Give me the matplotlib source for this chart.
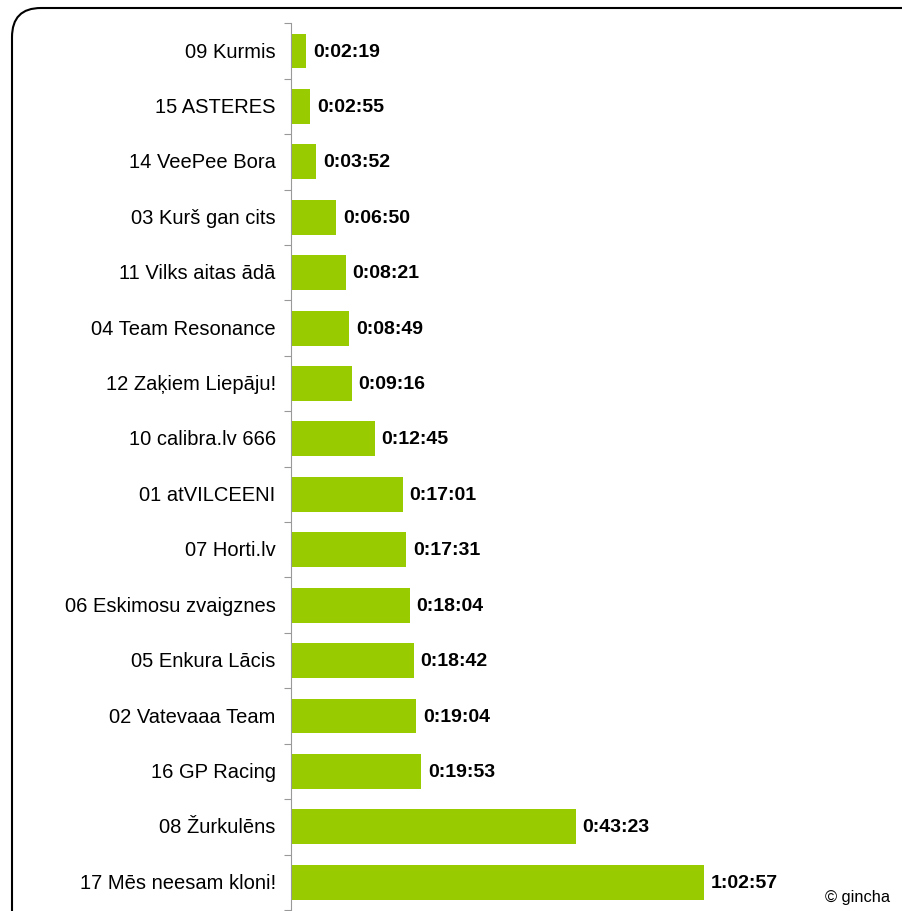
import matplotlib
matplotlib.use("Agg")
import matplotlib.pyplot as plt
from matplotlib.patches import FancyBboxPatch

plt.rcParams['font.family'] = ['Liberation Sans', 'DejaVu Sans']

# Komandas un laiki (no augšas uz leju)
komandas = [
    "09 Kurmis", "15 ASTERES", "14 VeePee Bora", "03 Kurš gan cits",
    "11 Vilks aitas ādā", "04 Team Resonance", "12 Zaķiem Liepāju!",
    "10 calibra.lv 666", "01 atVILCEENI", "07 Horti.lv",
    "06 Eskimosu zvaigznes", "05 Enkura Lācis", "02 Vatevaaa Team",
    "16 GP Racing", "08 Žurkulēns", "17 Mēs neesam kloni!",
]
laiki = [
    "0:02:19", "0:02:55", "0:03:52", "0:06:50", "0:08:21", "0:08:49",
    "0:09:16", "0:12:45", "0:17:01", "0:17:31", "0:18:04", "0:18:42",
    "0:19:04", "0:19:53", "0:43:23", "1:02:57",
]


def sekundes(t):
    h, m, s = [int(v) for v in t.split(":")]
    return h * 3600 + m * 60 + s


vertibas = [sekundes(t) for t in laiki]
n = len(komandas)

fig = plt.figure(figsize=(9.03, 9.12), dpi=100)
W, H = 903, 912

# noapaļots rāmis
ramis = FancyBboxPatch((12 / W, 1 - 9 / H - 1.2), 1.2, 1.2,
                       boxstyle="round,pad=0,rounding_size=0.032",
                       transform=fig.transFigure, fill=False,
                       edgecolor="black", linewidth=1.5, zorder=0)
fig.patches.append(ramis)

ax = fig.add_axes([291 / W, 1 - 911 / H, (W - 291) / W, (911 - 24.3) / H])
ax.set_facecolor("none")

y = list(range(n))
ax.barh(y, vertibas, height=0.63, color="#99CC00", zorder=2)
ax.set_ylim(n - 0.5, -0.5)
ax.set_xlim(0, (W - 291) / 0.10935)

for yi, v, t in zip(y, vertibas, laiki):
    ax.annotate(t, (v, yi), xytext=(5, 0), textcoords="offset points",
                va="center", ha="left", fontsize=14, fontweight="bold")

for yi, k in zip(y, komandas):
    ax.annotate(k, (0, yi), xytext=(-11, 0),
                textcoords="offset points", va="center", ha="right",
                fontsize=14.5)

# ass ar atzīmēm starp kategorijām
for s in ["top", "right", "bottom"]:
    ax.spines[s].set_visible(False)
ax.spines["left"].set_color("#999999")
ax.set_xticks([])
ax.set_yticks([i - 0.5 for i in range(n + 1)])
ax.set_yticklabels([])
ax.tick_params(axis="y", length=5, color="#999999", direction="out")

fig.text(890 / W, 1 - 898 / H, "© gincha", ha="right", va="center", fontsize=11.8)

fig.savefig("out.png", dpi=100)
